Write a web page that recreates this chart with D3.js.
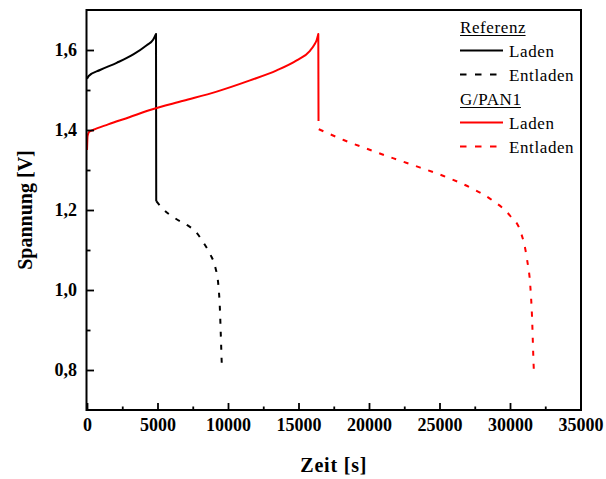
<!DOCTYPE html>
<html>
<head>
<meta charset="utf-8">
<script src="https://cdn.jsdelivr.net/npm/d3@7"></script>
<style>
  html, body { margin: 0; padding: 0; background: #fff; }
  svg { display: block; }
  text { font-family: "Liberation Serif", "Times New Roman", serif; fill: #000; }
</style>
</head>
<body>
<svg id="chart" width="606" height="479"></svg>
<script>
// Zeit in s, Spannung in V (last Laden point = voltage after the drop)
const refLadenT   = [0, 120, 922, 2106, 3284, 4234, 4700, 4894, 4910];
const refLadenV   = [1.528, 1.535, 1.550, 1.568, 1.589, 1.612, 1.626, 1.640, 1.222];
const refEntladenT = [4915, 5340, 6262, 7113, 7681, 8248, 8745, 9099, 9312, 9418, 9489, 9546, 9574];
const refEntladenV = [1.222, 1.204, 1.179, 1.162, 1.147, 1.119, 1.089, 1.057, 1.014, 0.959, 0.889, 0.827, 0.800];
const panLadenT   = [0, 40, 140, 425, 1500, 3000, 4468, 6830, 9199, 11560, 13454, 14872, 15816, 16100, 16291, 16404, 16420];
const panLadenV   = [1.350, 1.385, 1.395, 1.400, 1.414, 1.432, 1.450, 1.473, 1.496, 1.524, 1.549, 1.574, 1.598, 1.612, 1.625, 1.640, 1.4225];
const panEntladenT = [16440, 18200, 20092, 21745, 23638, 25291, 27185, 28723, 30021, 30730, 31206, 31440, 31560, 31678, 31690];
const panEntladenV = [1.402, 1.375, 1.350, 1.329, 1.306, 1.285, 1.256, 1.225, 1.185, 1.148, 1.077, 1.010, 0.935, 0.810, 0.800];

const xTicks = [0, 5000, 10000, 15000, 20000, 25000, 30000, 35000];
const xTickLabels = ["0", "5000", "10000", "15000", "20000", "25000", "30000", "35000"];
const xMinorTicks = [2500, 7500, 12500, 17500, 22500, 27500, 32500];
const yTicks = [0.8, 1.0, 1.2, 1.4, 1.6];
const yTickLabels = ["0,8", "1,0", "1,2", "1,4", "1,6"];
const yMinorTicks = [0.9, 1.1, 1.3, 1.5];

const groups = ["Referenz", "G/PAN1"];
const groupColors = ["#000000", "#ff0000"];
const modeLabels = ["Laden", "Entladen"];

const svg = d3.select("#chart");
const plotL = 87, plotR = 580.5, plotT = 10, plotB = 410;

const x = d3.scaleLinear().domain([0, 35000]).range([plotL, plotR]);
const y = d3.scaleLinear().domain([0.7, 1.7]).range([plotB, plotT]);

const smooth = d3.line().x(d => x(d[0])).y(d => y(d[1])).curve(d3.curveMonotoneX);
const zip = (a, b) => a.map((v, i) => [v, b[i]]);

// charge curve: smooth rise, then a straight drop to the last point
const chargePath = pts => {
  const rise = pts.slice(0, -1), drop = pts[pts.length - 1];
  return smooth(rise) + `L${x(drop[0])},${y(drop[1])}`;
};

const series = [
  { d: chargePath(zip(refLadenT, refLadenV)), color: groupColors[0], dash: null },
  { d: smooth(zip(refEntladenT, refEntladenV)), color: groupColors[0], dash: "5,8" },
  { d: chargePath(zip(panLadenT, panLadenV)), color: groupColors[1], dash: null },
  { d: smooth(zip(panEntladenT, panEntladenV)), color: groupColors[1], dash: "5,8" }
];

svg.append("g").selectAll("path").data(series).join("path")
  .attr("d", d => d.d)
  .attr("fill", "none")
  .attr("stroke", d => d.color)
  .attr("stroke-width", 2)
  .attr("stroke-linejoin", "round")
  .attr("stroke-dasharray", d => d.dash);

// axes with inward ticks
const tickStyle = g => {
  g.select(".domain").remove();
  g.selectAll(".tick line").attr("stroke", "#000").attr("stroke-width", 1.8);
  g.selectAll(".tick text").attr("font-size", 18).attr("font-weight", "bold")
    .style("font-family", "'Liberation Serif', serif");
};

svg.append("g").attr("transform", `translate(0,${plotB})`)
  .call(d3.axisBottom(x).tickValues(xTicks).tickFormat((d, i) => xTickLabels[i]).tickSize(-7).tickPadding(8))
  .call(tickStyle);
svg.append("g").attr("transform", `translate(0,${plotB})`)
  .call(d3.axisBottom(x).tickValues(xMinorTicks).tickFormat("").tickSize(-3.5))
  .call(tickStyle);
svg.append("g").attr("transform", `translate(${plotL},0)`)
  .call(d3.axisLeft(y).tickValues(yTicks).tickFormat((d, i) => yTickLabels[i]).tickSize(-7).tickPadding(10))
  .call(tickStyle);
svg.append("g").attr("transform", `translate(${plotL},0)`)
  .call(d3.axisLeft(y).tickValues(yMinorTicks).tickFormat("").tickSize(-3.5))
  .call(tickStyle);

// frame
svg.append("rect")
  .attr("x", plotL - 0.5).attr("y", plotT)
  .attr("width", plotR - plotL + 1).attr("height", plotB - plotT)
  .attr("fill", "none").attr("stroke", "#000").attr("stroke-width", 2);

// axis titles
svg.append("text")
  .attr("x", (plotL + plotR) / 2).attr("y", 472)
  .attr("text-anchor", "middle")
  .attr("font-size", 20).attr("font-weight", "bold")
  .style("letter-spacing", "0.8px")
  .text("Zeit [s]");
svg.append("text")
  .attr("transform", `translate(32,${(plotT + plotB) / 2}) rotate(-90)`)
  .attr("text-anchor", "middle")
  .attr("font-size", 20).attr("font-weight", "bold")
  .text("Spannung [V]");

// legend
const leg = svg.append("g");
const lx = 460, rowH = 24;
groups.forEach((gname, gi) => {
  const baseY = 33 + gi * 3 * rowH;
  const t = leg.append("text")
    .attr("x", lx).attr("y", baseY)
    .attr("font-size", 17).style("letter-spacing", "0.6px")
    .text(gname);
  const w = t.node().getComputedTextLength();
  leg.append("line")
    .attr("x1", lx).attr("x2", lx + w - 0.6)
    .attr("y1", baseY + 2.5).attr("y2", baseY + 2.5)
    .attr("stroke", "#000").attr("stroke-width", 1);
  modeLabels.forEach((m, mi) => {
    const ly = baseY + (mi + 1) * rowH - 6.5;
    leg.append("line")
      .attr("x1", lx).attr("x2", lx + 43)
      .attr("y1", ly).attr("y2", ly)
      .attr("stroke", groupColors[gi]).attr("stroke-width", 2)
      .attr("stroke-dasharray", mi === 1 ? "6.5,8.5" : null);
    leg.append("text")
      .attr("x", 509).attr("y", ly + 6.5)
      .attr("font-size", 17).style("letter-spacing", "0.6px")
      .text(m);
  });
});
</script>
</body>
</html>
